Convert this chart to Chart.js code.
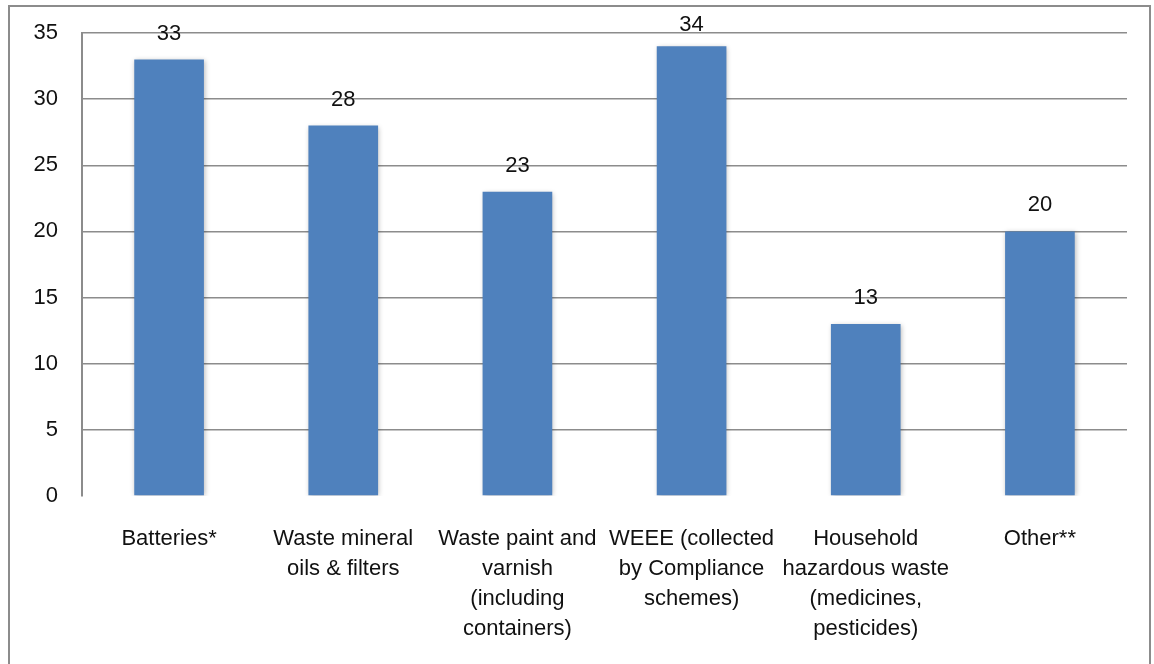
<!DOCTYPE html>
<html>
<head>
<meta charset="utf-8">
<script src="https://cdn.jsdelivr.net/npm/chart.js@4"></script>
<style>
  html, body { margin: 0; padding: 0; background: #fff; }
  #wrap { width: 1154px; height: 664px; position: relative; }
</style>
</head>
<body>
<div id="wrap"><canvas id="grafico"></canvas></div>
<script>
const categorias = [
  ["Batteries*"],
  ["Waste mineral", "oils & filters"],
  ["Waste paint and", "varnish", "(including", "containers)"],
  ["WEEE (collected", "by Compliance", "schemes)"],
  ["Household", "hazardous waste", "(medicines,", "pesticides)"],
  ["Other**"]
];
const valores = [33, 28, 23, 34, 13, 20];
const ticksY = [0, 5, 10, 15, 20, 25, 30, 35];

const fonte = "'Liberation Sans', Arial, sans-serif";

// moldura cinza em volta do grafico
const moldura = {
  id: "moldura",
  beforeDraw(chart) {
    const c = chart.ctx;
    c.save();
    c.fillStyle = "#fff";
    c.fillRect(0, 0, chart.width, chart.height);
    c.strokeStyle = "#8c8c8c";
    c.lineWidth = 2;
    c.strokeRect(9, 6, chart.width - 13, chart.height + 10);
    c.restore();
  }
};

// sombra suave nas barras
const sombra = {
  id: "sombra",
  beforeDatasetDraw(chart) {
    const c = chart.ctx;
    c.save();
    c.shadowColor = "rgba(0,0,0,0.28)";
    c.shadowBlur = 5;
    c.shadowOffsetX = 1;
    c.shadowOffsetY = 1;
  },
  afterDatasetDraw(chart) {
    chart.ctx.restore();
  }
};

// rotulos de valor acima das barras
const rotulos = {
  id: "rotulos",
  afterDatasetsDraw(chart) {
    const c = chart.ctx;
    const meta = chart.getDatasetMeta(0);
    c.save();
    c.font = "22px " + fonte;
    c.fillStyle = "#111";
    c.textAlign = "center";
    c.textBaseline = "middle";
    meta.data.forEach((barra, i) => {
      const y = Math.max(barra.y - 26, chart.chartArea.top - 8);
      c.fillText(String(chart.data.datasets[0].data[i]), barra.x, y);
    });
    c.restore();
  }
};

const ctx = document.getElementById("grafico").getContext("2d");
new Chart(ctx, {
  type: "bar",
  data: {
    labels: categorias,
    datasets: [{
      data: valores,
      backgroundColor: "#4f81bd",
      borderWidth: 0,
      categoryPercentage: 1,
      barPercentage: 0.4
    }]
  },
  options: {
    responsive: true,
    maintainAspectRatio: false,
    animation: false,
    layout: { padding: { left: 8, top: 33, right: 27, bottom: 0 } },
    plugins: {
      legend: { display: false },
      tooltip: { enabled: false }
    },
    scales: {
      x: {
        grid: { display: false, drawTicks: false },
        border: { display: false },
        ticks: {
          color: "#111",
          font: { family: fonte, size: 22, lineHeight: 1.36 },
          padding: 28,
          maxRotation: 0,
          autoSkip: false
        },
        afterFit(scale) {
          scale.height = 168;
          scale.paddingLeft = 0;
          scale.paddingRight = 0;
        }
      },
      y: {
        min: 0,
        max: 35,
        afterBuildTicks(scale) {
          scale.ticks = ticksY.map(v => ({ value: v }));
        },
        grid: {
          drawTicks: false,
          lineWidth: 1.5,
          color: c => (c.tick && c.tick.value === 0 ? "rgba(0,0,0,0)" : "#8c8c8c")
        },
        border: { display: true, color: "#8c8c8c", width: 2 },
        ticks: {
          color: "#111",
          font: { family: fonte, size: 22 },
          padding: 24
        },
        afterFit(scale) {
          scale.width = 74;
          scale.paddingTop = 0;
          scale.paddingBottom = 0;
        }
      }
    }
  },
  plugins: [moldura, sombra, rotulos]
});
</script>
</body>
</html>
